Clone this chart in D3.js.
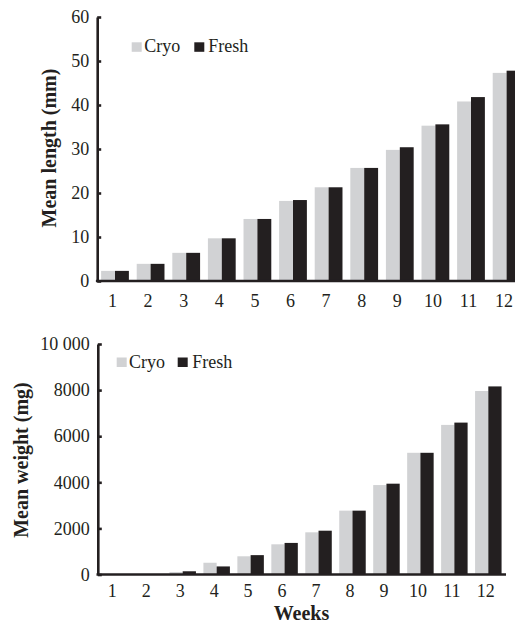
<!DOCTYPE html>
<html>
<head>
<meta charset="utf-8">
<script src="https://cdn.jsdelivr.net/npm/d3@7"></script>
<style>
  body { margin: 0; background: #fff; }
  svg { display: block; }
  svg text { font-family: "Liberation Serif", "DejaVu Serif", "Times New Roman", serif; fill: #231f20; }
  .tick text { font-size: 18px; }
  .title { font-size: 20px; font-weight: bold; }
  .legend text { font-size: 18px; }
</style>
</head>
<body>
<svg></svg>
<script>
// Weeks on the x axis
var weeks = ["1", "2", "3", "4", "5", "6", "7", "8", "9", "10", "11", "12"];
var seriesNames = ["Cryo", "Fresh"];

// Mean length (mm)
var lengthCryo  = [2.3, 3.9, 6.4, 9.7, 14.1, 18.2, 21.3, 25.7, 29.8, 35.3, 40.8, 47.3];
var lengthFresh = [2.3, 3.9, 6.4, 9.7, 14.1, 18.4, 21.3, 25.7, 30.4, 35.6, 41.8, 47.8];

// Mean weight (mg)
var weightCryo  = [5, 15, 110, 510, 790, 1310, 1830, 2770, 3880, 5280, 6490, 7960];
var weightFresh = [5, 15, 140, 350, 840, 1370, 1900, 2770, 3940, 5280, 6590, 8160];

var lengthTicks = [0, 10, 20, 30, 40, 50, 60];
var weightTicks = [0, 2000, 4000, 6000, 8000, 10000];

var colors = {Cryo: "#d1d2d4", Fresh: "#231f20"};
var ink = "#231f20";
var serif = "Liberation Serif, DejaVu Serif, Times New Roman, serif";

var svg = d3.select("svg")
  .attr("width", 515)
  .attr("height", 624);

// Draws one panel of grouped bars
function panel(opts) {
  var g = svg.append("g");

  var x0 = d3.scaleBand()
    .domain(weeks)
    .range(opts.xRange)
    .paddingInner(0.22)
    .paddingOuter(0.11);

  var x1 = d3.scaleBand()
    .domain(seriesNames)
    .range([0, x0.bandwidth()]);

  var y = d3.scaleLinear()
    .domain([0, d3.max(opts.ticks)])
    .range(opts.yRange);

  var rows = weeks.map(function(w, i) {
    return {week: w, Cryo: opts.cryo[i], Fresh: opts.fresh[i]};
  });

  // bars
  g.append("g")
    .selectAll("g")
    .data(rows)
    .enter()
    .append("g")
    .attr("transform", function(d) { return "translate(" + x0(d.week) + ",0)"; })
    .selectAll("rect")
    .data(function(d) { return seriesNames.map(function(s) { return {key: s, value: d[s]}; }); })
    .enter()
    .append("rect")
    .attr("x", function(d) { return x1(d.key); })
    .attr("y", function(d) { return y(d.value); })
    .attr("width", x1.bandwidth())
    .attr("height", function(d) { return y(0) - y(d.value); })
    .attr("fill", function(d) { return colors[d.key]; });

  // y axis, ticks pointing inwards
  var yAxis = d3.axisLeft(y)
    .tickValues(opts.ticks)
    .tickSizeInner(-4)
    .tickSizeOuter(0)
    .tickPadding(8)
    .tickFormat(function(d) { return d < 10000 ? d : d3.format(",")(d).replace(/,/g, " "); });

  var ya = g.append("g")
    .attr("transform", "translate(" + opts.xRange[0] + ",0)")
    .call(yAxis)
    .attr("font-family", serif)
    .attr("font-size", 18);
  ya.selectAll("path, line").attr("stroke", ink).attr("stroke-width", 2.6);
  ya.selectAll("text").attr("fill", ink);

  // x axis: baseline and week labels, no tick marks
  var xAxis = d3.axisBottom(x0)
    .tickSize(0)
    .tickPadding(opts.labelPad);

  var xa = g.append("g")
    .attr("transform", "translate(0," + y(0) + ")")
    .call(xAxis)
    .attr("font-family", serif)
    .attr("font-size", 18);
  xa.select(".domain")
    .attr("d", "M" + (opts.xRange[0] - 1.3) + ",0H" + opts.xEnd)
    .attr("stroke", ink)
    .attr("stroke-width", 2.6);
  xa.selectAll("text").attr("fill", ink).attr("dx", -2.5);

  // y title
  g.append("text")
    .attr("class", "title")
    .attr("font-family", serif)
    .attr("transform", "translate(" + opts.titleX + "," + opts.titleY + ") rotate(-90)")
    .attr("text-anchor", "middle")
    .text(opts.title);

  // legend
  var lg = g.append("g").attr("class", "legend");
  seriesNames.forEach(function(s, i) {
    lg.append("rect")
      .attr("x", opts.legend[i][0])
      .attr("y", opts.legend[i][1])
      .attr("width", 10)
      .attr("height", 9.5)
      .attr("fill", colors[s]);
    lg.append("text")
      .attr("font-family", serif)
      .attr("x", opts.legend[i][2])
      .attr("y", opts.legend[i][3])
      .text(s);
  });
}

panel({
  cryo: lengthCryo,
  fresh: lengthFresh,
  ticks: lengthTicks,
  xRange: [97.2, 524.4],
  xEnd: 524,
  yRange: [281, 17],
  labelPad: 13,
  title: "Mean length (mm)",
  titleX: 56,
  titleY: 148,
  legend: [[131.7, 42.3, 144.3, 52.3], [194.3, 42.3, 208.3, 52.3]]
});

panel({
  cryo: weightCryo,
  fresh: weightFresh,
  ticks: weightTicks,
  xRange: [97.8, 505.3],
  xEnd: 506,
  yRange: [574.5, 344],
  labelPad: 9.5,
  title: "Mean weight (mg)",
  titleX: 27.5,
  titleY: 460,
  legend: [[116.7, 357.5, 129, 367.7], [177.7, 357.5, 192.3, 367.7]]
});

// x title for the bottom panel
svg.append("text")
  .attr("class", "title")
  .attr("font-family", serif)
  .attr("x", 301.5)
  .attr("y", 620)
  .attr("text-anchor", "middle")
  .text("Weeks");
</script>
</body>
</html>
